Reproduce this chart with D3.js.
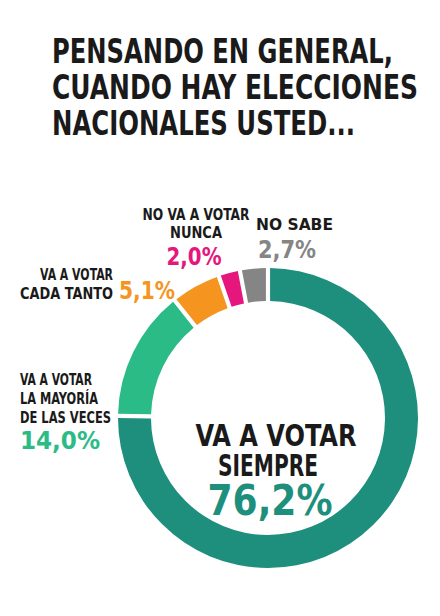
<!DOCTYPE html>
<html><head><meta charset="utf-8">
<script src="https://cdn.jsdelivr.net/npm/d3@7"></script>
<style>body{margin:0;background:#fff}text{font-family:"DejaVu Sans Condensed","Liberation Sans Narrow",sans-serif;font-weight:bold}</style>
</head><body><svg width="440" height="616"></svg>
<script>
var categories = ["VA A VOTAR SIEMPRE", "VA A VOTAR LA MAYORÍA DE LAS VECES", "VA A VOTAR CADA TANTO", "NO VA A VOTAR NUNCA", "NO SABE"];
var values = [76.2, 14.0, 5.1, 2.0, 2.7];
var labels = ["76,2%", "14,0%", "5,1%", "2,0%", "2,7%"];
var colors = ["#1d8f7c", "#2bbb86", "#f5951f", "#e5177d", "#858585"];
var titleLines = ["PENSANDO EN GENERAL,", "CUANDO HAY ELECCIONES", "NACIONALES USTED..."];

var svg = d3.select("svg");
var cx = 268, cy = 418, R = 150, r = 117;

function txt(x, y, s, fs, color, w, anchor) {
  return svg.append("text").attr("x", x).attr("y", y).attr("font-size", fs)
    .attr("fill", color).attr("text-anchor", anchor || "start")
    .attr("textLength", w).attr("lengthAdjust", "spacingAndGlyphs").text(s);
}

// title
var titleW = [341, 366, 303];
titleLines.forEach((l, i) => txt(52, 63 + i * 36, l, 33, "#1a1a1a", titleW[i]));

var pie = d3.pie().sort(null).padAngle(0.022)(values);
var arc = d3.arc().innerRadius(r).outerRadius(R);
svg.append("g").attr("transform", "translate(" + cx + "," + cy + ")")
  .selectAll("path").data(pie).enter().append("path")
  .attr("d", arc).attr("fill", (d, i) => colors[i]);

var ink = "#1a1a1a";
// center
txt(276, 446, "VA A VOTAR", 30, ink, 161, "middle");
txt(268, 476, "SIEMPRE", 30, ink, 100, "middle");
txt(270, 515, labels[0], 42, colors[0], 125, "middle");
// mayoría
txt(20, 385, "VA A VOTAR", 15, ink, 72);
txt(20, 404, "LA MAYORÍA", 15, ink, 78);
txt(20, 423, "DE LAS VECES", 15, ink, 91);
txt(20, 449, labels[1], 24, colors[1], 80);
// cada tanto
txt(113, 280, "VA A VOTAR", 15, ink, 73, "end");
txt(113, 299, "CADA TANTO", 15, ink, 93, "end");
txt(119, 299, labels[2], 24, colors[2], 56);
// nunca
txt(196, 220, "NO VA A VOTAR", 15, ink, 107, "middle");
txt(196, 238, "NUNCA", 15, ink, 52, "middle");
txt(194, 265, labels[3], 24, colors[3], 55, "middle");
// no sabe
txt(256, 230, "NO SABE", 15, ink, 77);
txt(258, 258, labels[4], 24, colors[4], 58);
</script></body></html>
